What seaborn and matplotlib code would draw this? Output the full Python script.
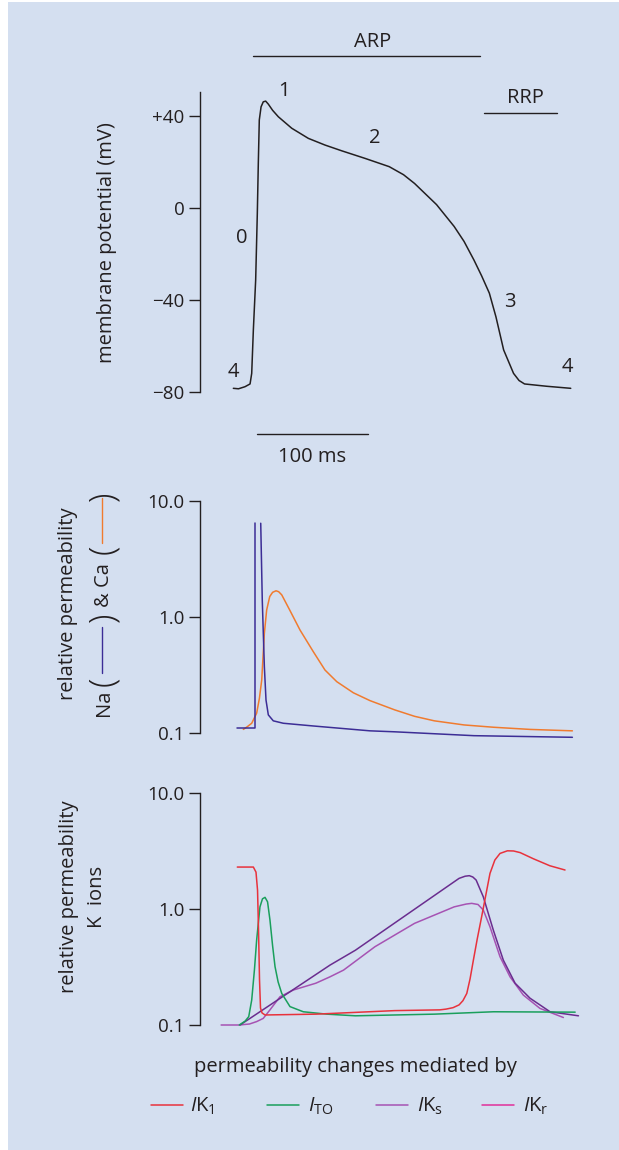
import numpy as np
import matplotlib
matplotlib.use("Agg")
import matplotlib.pyplot as plt
from matplotlib.lines import Line2D
from matplotlib.patches import Rectangle
import seaborn as sns

# ---- data (time in ms, mV / relative permeability)
vm_t = [0.3, 5, 10.9, 15.5, 17, 18.5, 20.6, 22.1, 23, 23.9, 25.5, 27.5, 29.7, 32.1,
        36, 41.2, 53.4, 68.5, 83.6, 98.8, 120, 142, 155, 165, 185, 201, 210, 219,
        226, 233, 239, 246, 255, 260, 265, 285, 307]
vm_mv = [-78.4, -78.6, -77.7, -76.5, -71.9, -53, -31.3, -2.3, 19.4, 38.3, 44, 46.2,
         46.5, 45.2, 42.5, 39.7, 34.7, 30.3, 27.4, 24.9, 21.6, 18, 14.5, 10.7, 1.5,
         -8, -14.5, -22.6, -29.5, -37, -47.3, -61.7, -71.9, -75, -76.5, -77.5, -78.4]

na_rise_t = [3.4, 20, 20]
na_rise_p = [0.1117, 0.1117, 6.4]
na_fall_t = [25.2, 26.6, 28.5, 30, 32.1, 36.6, 45.7, 73, 124.5, 147, 219, 308.5]
na_fall_p = [6.4, 1.4, 0.374, 0.193, 0.144, 0.128, 0.122, 0.1156, 0.105, 0.103, 0.0954, 0.0924]

ca_t = [9.4, 13, 17, 21.5, 24, 26.1, 28.5, 30.6, 33.4, 36, 39.1, 41.5, 44.3, 51.5,
        60.9, 73, 83.6, 94.3, 109.4, 124.5, 147, 165, 183, 210, 237, 270, 308.5]
ca_p = [0.108, 0.114, 0.122, 0.149, 0.2, 0.287, 0.724, 1.15, 1.5, 1.63, 1.68, 1.65,
        1.55, 1.15, 0.773, 0.503, 0.35, 0.278, 0.223, 0.191, 0.159, 0.14, 0.128,
        0.118, 0.1127, 0.108, 0.105]

ik1_t = [3.9, 18.5, 20.9, 22.3, 23.2, 24.1, 25, 26.4, 29.1, 75.3, 147, 188, 193.6,
         200, 205.5, 209, 212.5, 215.5, 218.5, 222, 226, 233.6, 238, 242.7, 249.4,
         255, 261, 273, 288, 301.8]
ik1_p = [2.29, 2.29, 2.07, 1.45, 0.657, 0.244, 0.14, 0.127, 0.122, 0.124, 0.133,
         0.135, 0.137, 0.141, 0.149, 0.162, 0.187, 0.25, 0.362, 0.55, 0.855, 2.02,
         2.63, 3.0, 3.16, 3.15, 3.05, 2.7, 2.35, 2.16]

ito_t = [5.7, 11, 14.3, 17, 19.5, 21.5, 24.5, 26.8, 29.1, 31.4, 33.6, 36, 38.2, 41,
         44.3, 51.8, 63.9, 85.2, 111.2, 183, 236.8, 311]
ito_p = [0.1, 0.108, 0.118, 0.164, 0.3, 0.54, 1.04, 1.22, 1.256, 1.15, 0.8, 0.48,
         0.318, 0.235, 0.187, 0.144, 0.130, 0.124, 0.120, 0.124, 0.130, 0.129]

ikr_t = [6.4, 88.2, 111.2, 205.5, 211, 214.8, 218, 221, 227.5, 236.6, 245.7, 256.4,
         270, 288.2, 314]
ikr_p = [0.1, 0.328, 0.44, 1.83, 1.91, 1.93, 1.88, 1.77, 1.27, 0.657, 0.362, 0.229,
         0.17, 0.130, 0.120]

iks_t = [-10.8, 5.5, 15, 21.5, 27.5, 33.6, 42.7, 54.8, 75.3, 88.2, 100.5, 129, 165,
         201, 212, 217, 222.7, 227.5, 233.6, 242.7, 251.8, 263.9, 279, 300.3]
iks_p = [0.1, 0.1, 0.102, 0.107, 0.114, 0.135, 0.175, 0.2, 0.229, 0.26, 0.297, 0.472,
         0.75, 1.04, 1.1, 1.115, 1.09, 0.977, 0.70, 0.387, 0.26, 0.181, 0.139, 0.116]

vm_ticks = [-80, -40, 0, 40]
vm_ticklabels = ["\u221280", "\u221240", "0", "+40"]
perm_ticks = [0.1, 1.0, 10.0]
perm_ticklabels = ["0.1", "1.0", "10.0"]
legend_labels = [r"$\mathit{I}\mathrm{K}_1$", r"$\mathit{I}_\mathrm{TO}$",
                 r"$\mathit{I}\mathrm{K}_\mathrm{s}$", r"$\mathit{I}\mathrm{K}_\mathrm{r}$"]

# ---- colours
BG = "#d4dff0"
INK = "#231f20"
RED = "#e8323c"
GREEN = "#1a9f5c"
DPURPLE = "#6a2d8f"
LPURPLE = "#a653b3"
PINK = "#e0309a"
NA_C = "#3c2d96"
CA_C = "#f07b2f"

FONT = "Open Sans"
sns.set_theme(style="ticks")
plt.rcParams["font.family"] = [FONT, "DejaVu Sans"]
plt.rcParams["mathtext.fontset"] = "custom"
plt.rcParams["mathtext.rm"] = FONT
plt.rcParams["mathtext.it"] = FONT + ":italic"
plt.rcParams["text.color"] = INK

W, H = 619, 1150
fig = plt.figure(figsize=(W / 100, H / 100), dpi=100, facecolor="white")
fig.patches.append(Rectangle((8 / W, 0), 1, 1 - 2 / H, transform=fig.transFigure,
                             facecolor=BG, edgecolor="none", zorder=-10))


def fx(px):
    return px / W


def fy(py):
    return 1 - py / H


LW = 1.1
FS = 13.5      # ticks and phase numbers
FSL = 14.5     # word labels


def make_ax(top, bottom):
    ax = fig.add_axes([fx(200), fy(bottom), fx(590) - fx(200), (bottom - top) / H])
    ax.set_facecolor("none")
    for s in ["top", "right", "bottom"]:
        ax.spines[s].set_visible(False)
    ax.spines["left"].set_color(INK)
    ax.spines["left"].set_linewidth(1.0)
    ax.tick_params(axis="y", length=8, width=1.0, color=INK, labelsize=FS,
                   labelcolor=INK, pad=3)
    ax.set_xticks([])
    ax.set_xlim(-30, 324.5)
    return ax


def trace(ax, t, v, color):
    sns.lineplot(x=t, y=v, ax=ax, color=color, linewidth=LW, estimator=None,
                 sort=False, clip_on=False)


# ---- top: action potential
ax1 = make_ax(91.7, 392)
trace(ax1, vm_t, vm_mv, INK)
ax1.set_ylim(-80, 50.6)
ax1.set_yticks(vm_ticks)
ax1.set_yticklabels(vm_ticklabels)
ax1.set_xlabel("")
ax1.set_ylabel("")

ax1.plot([18.2, 224.5], [66.1, 66.1], color=INK, lw=1.0, clip_on=False)
ax1.text(127.3, 72.3, "ARP", ha="center", va="center", fontsize=FSL)
ax1.plot([227.8, 294.3], [41.2, 41.2], color=INK, lw=1.0, clip_on=False)
ax1.text(265.5, 47.7, "RRP", ha="center", va="center", fontsize=FSL)
for tx, ty, s in [(45.9, 51, "1"), (129, 30.3, "2"), (7.8, -13.2, "0"),
                  (251.9, -40.7, "3"), (-0.1, -71.2, "4"), (303.9, -69.3, "4")]:
    ax1.text(tx, ty, s, ha="center", va="center", fontsize=FSL)
ax1.plot([22.2, 122.7], [-98.3, -98.3], color=INK, lw=1.0, clip_on=False)
ax1.text(71.7, -108.4, "100 ms", ha="center", va="center", fontsize=FSL)
fig.text(fx(107), fy(242.5), "membrane potential (mV)", rotation=90,
         ha="center", va="center", fontsize=FSL)

# ---- middle: Na and Ca permeability
ax2 = make_ax(500.7, 733.3)
ax2.set_yscale("log")
trace(ax2, ca_t, ca_p, CA_C)
trace(ax2, na_rise_t, na_rise_p, NA_C)
trace(ax2, na_fall_t, na_fall_p, NA_C)
ax2.set_ylim(0.1, 10)
ax2.set_yticks(perm_ticks)
ax2.set_yticklabels(perm_ticklabels)
ax2.minorticks_off()
ax2.set_xlabel("")
ax2.set_ylabel("")

fig.text(fx(68.3), fy(604), "relative permeability", rotation=90,
         ha="center", va="center", fontsize=FSL)
for py, s in [(703, "Na"), (585, "& Ca")]:
    fig.text(fx(104), fy(py), s, rotation=90, ha="center", va="center", fontsize=FSL)
for py, s in [(681.7, "("), (617.5, ")"), (549, "("), (496, ")")]:
    fig.text(fx(104), fy(py), s, rotation=90, ha="center", va="center",
             fontsize=25, fontweight="light")
fig.add_artist(Line2D([fx(102.3)] * 2, [fy(626.7), fy(672.7)], color=NA_C, lw=1.0))
fig.add_artist(Line2D([fx(102.3)] * 2, [fy(498), fy(543)], color=CA_C, lw=1.0))

# ---- bottom: K permeability
ax3 = make_ax(792.7, 1025)
ax3.set_yscale("log")
trace(ax3, iks_t, iks_p, LPURPLE)
trace(ax3, ikr_t, ikr_p, DPURPLE)
trace(ax3, ito_t, ito_p, GREEN)
trace(ax3, ik1_t, ik1_p, RED)
ax3.set_ylim(0.1, 10)
ax3.set_yticks(perm_ticks)
ax3.set_yticklabels(perm_ticklabels)
ax3.minorticks_off()
ax3.set_xlabel("")
ax3.set_ylabel("")

fig.text(fx(69), fy(897), "relative permeability", rotation=90,
         ha="center", va="center", fontsize=FSL)
fig.text(fx(97), fy(897), "K  ions", rotation=90, ha="center", va="center", fontsize=FSL)

fig.text(fx(355.7), fy(1067), "permeability changes mediated by",
         ha="center", va="center", fontsize=FSL)

leg_colors = [RED, GREEN, LPURPLE, PINK]
leg_x = [(151, 183.3, 190), (266.7, 299, 308.3), (376, 407.7, 416.7), (481.7, 514, 523.3)]
for (x0, x1, xt), c, lab in zip(leg_x, leg_colors, legend_labels):
    fig.add_artist(Line2D([fx(x0), fx(x1)], [fy(1105), fy(1105)], color=c, lw=1.1))
    fig.text(fx(xt), fy(1106), lab, ha="left", va="center", fontsize=FSL)

fig.savefig("out.png", dpi=100, facecolor=fig.get_facecolor())
